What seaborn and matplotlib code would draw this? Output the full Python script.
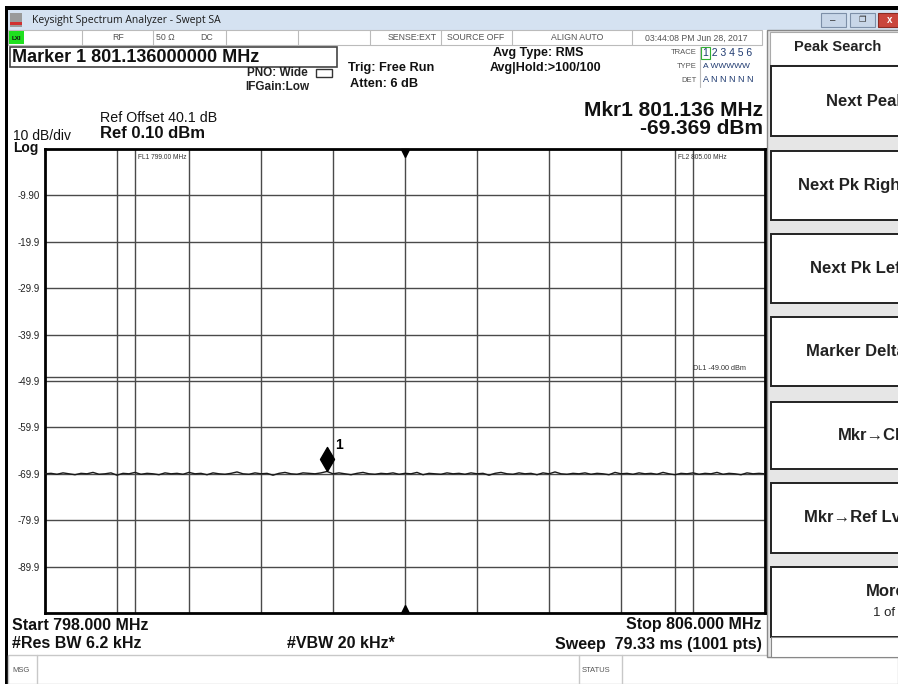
import matplotlib
matplotlib.use("Agg")
import matplotlib.pyplot as plt
from matplotlib.patches import Rectangle
from matplotlib.transforms import offset_copy
import numpy as np
import pandas as pd
import seaborn as sns

# sweep settings
start_mhz = 798.0
stop_mhz = 806.0
ref_level = 0.10
bottom_level = -99.9
fl_freqs = [799.0, 805.0]
fl_labels = ["FL1 799.00 MHz", "FL2 805.00 MHz"]
dl_level = -49.0
dl_label = "DL1 -49.00 dBm"
mkr_freq = 801.136
mkr_level = -69.369

grid_levels = [-9.9, -19.9, -29.9, -39.9, -49.9, -59.9, -69.9, -79.9, -89.9]
level_labels = ["-9.90", "-19.9", "-29.9", "-39.9", "-49.9", "-59.9", "-69.9", "-79.9", "-89.9"]
grid_freqs = [798.8, 799.6, 800.4, 801.2, 802.0, 802.8, 803.6, 804.4, 805.2]

# noise floor trace (dBm), read along the sweep
trace_dbm = [
    -69.9, -69.8, -70.0, -69.7, -69.9, -70.1, -69.8, -69.9, -69.6, -70.0,
    -69.9, -69.7, -70.2, -69.8, -69.9, -69.6, -70.0, -69.8, -69.9, -70.1,
    -69.7, -69.9, -69.8, -70.0, -69.6, -69.9, -69.8, -70.1, -69.7, -69.9,
    -70.0, -69.8, -69.5, -69.9, -70.0, -69.7, -69.9, -69.8, -70.2, -69.8,
    -69.6, -69.9, -70.0, -69.7, -69.8, -69.9, -69.7, -69.4, -69.9, -69.7,
    -69.9, -70.1, -69.8, -69.6, -69.9, -70.0, -69.8, -69.9, -69.7, -70.0,
    -69.8, -69.9, -69.6, -70.1, -69.8, -69.9, -70.0, -69.7, -69.9, -69.8,
    -70.0, -69.7, -69.9, -69.8, -70.2, -69.8, -69.6, -69.9, -70.0, -69.7,
    -69.9, -69.8, -70.1, -69.7, -69.9, -69.5, -69.9, -70.0, -69.8, -69.9,
    -69.7, -70.0, -69.8, -69.9, -70.1, -69.6, -69.9, -69.8, -70.0, -69.7,
    -69.9, -69.8, -70.0, -69.6, -69.9, -70.1, -69.8, -69.9, -69.7, -70.0,
    -69.8, -69.9, -69.6, -70.0, -69.8, -69.9, -70.1, -69.7, -69.9, -69.8, -69.9,
]

softkeys = ["Next Peak", "Next Pk Right", "Next Pk Left", "Marker Delta",
            "Mkr\u2192CF", "Mkr\u2192Ref Lvl", "More"]
softkey_rows = [(66, 136), (151, 220), (234, 303), (317, 386), (402, 469), (483, 553), (567, 637)]

sns.set_style("white")
plt.rcParams['font.family'] = ['Liberation Sans', 'DejaVu Sans']

W, H = 898, 684
fig = plt.figure(figsize=(W / 100, H / 100), dpi=100)

# pixel-space canvas for the instrument frame
ui = fig.add_axes([0, 0, 1, 1], zorder=0)
ui.set_xlim(0, W)
ui.set_ylim(H, 0)
ui.axis('off')


def box(x0, y0, x1, y1, fc='none', ec='none', lw=1.0):
    ui.add_patch(Rectangle((x0, y0), x1 - x0, y1 - y0, facecolor=fc, edgecolor=ec, lw=lw))


def txt(x, y, s, size=9, bold=False, ha='left', color='#111111', **kw):
    ui.text(x, y, s, fontsize=size, fontweight='bold' if bold else 'normal',
            ha=ha, va='center', color=color, **kw)


# window chrome
box(5, 6, W, 10, fc='black')
box(5, 6, 8, H, fc='black')
box(8, 10, W, 30, fc='#d5e2f1')
box(10, 13, 22, 27, fc='#9a9a9a')
box(10, 22, 22, 25, fc='#d03030')
ui.text(32, 20, "Keysight Spectrum Analyzer - Swept SA", fontsize=7.5, va='center',
        family=['Open Sans', 'DejaVu Sans'], color='#1a1a1a')
box(821, 13, 846, 27, fc='#c8d6e8', ec='#7d8fa8', lw=0.8)
box(850, 13, 875, 27, fc='#c8d6e8', ec='#7d8fa8', lw=0.8)
box(878, 13, 900, 27, fc='#c9463d', ec='#8a2b24', lw=0.8)
ui.text(833, 20, "\u2013", fontsize=7, ha='center', va='center', color='#333')
ui.text(862, 20, "\u2750", fontsize=6, ha='center', va='center', color='#333',
        family=['DejaVu Sans'])
ui.text(890, 20, "x", fontsize=7, ha='center', va='center', color='white', fontweight='bold')

# status row
box(8, 30, 762, 45, fc='white', ec='#bbbbbb', lw=0.8)
for xd in [82, 153, 226, 298, 370, 441, 512, 632]:
    ui.plot([xd, xd], [30, 45], color='#bbbbbb', lw=0.8)
box(9, 31, 24, 44, fc='#1fe01f')
txt(16, 38, "LXI", size=4.5, bold=True, ha='center')
for xs, s, ha in [(118, "RF", 'center'), (165, "50 \u03a9", 'center'), (207, "DC", 'center'),
                  (437, "SENSE:EXT", 'right'), (476, "SOURCE OFF", 'center'),
                  (577, "ALIGN AUTO", 'center'), (696, "03:44:08 PM Jun 28, 2017", 'center')]:
    txt(xs, 38, s, size=6.3, ha=ha, color='#555555')

# header texts
box(10, 47, 337, 67, fc='white', ec='#444444', lw=1.2)
txt(12, 57, "Marker 1 801.136000000 MHz", size=13, bold=True)
txt(247, 73, "PNO: Wide", size=8.5, bold=True, color='#222')
txt(245, 87, "IFGain:Low", size=8.5, bold=True, color='#222')
box(316, 69, 332, 77, fc='white', ec='#333333', lw=1.0)
txt(348, 68, "Trig: Free Run", size=9.2, bold=True)
txt(350, 84, "Atten: 6 dB", size=9.2, bold=True)
txt(538, 53, "Avg Type: RMS", size=9, bold=True, ha='center')
txt(545, 68, "Avg|Hold:>100/100", size=9, bold=True, ha='center')
ui.plot([700, 700], [47, 87], color='#bbbbbb', lw=0.8)
txt(697, 53, "TRACE", size=5.5, ha='right', color='#555555')
txt(697, 67, "TYPE", size=5.5, ha='right', color='#555555')
txt(697, 80, "DET", size=5.5, ha='right', color='#555555')
box(701, 47, 710, 59, ec='#30b030', lw=0.8)
txt(703, 53, "1 2 3 4 5 6", size=7.5, color='#1f3a70')
txt(703, 67, "A WWWWW", size=6, color='#1f3a70')
txt(703, 80, "A N N N N N", size=6.5, color='#1f3a70')
txt(763, 110, "Mkr1 801.136 MHz", size=15, bold=True, ha='right')
txt(763, 128, "-69.369 dBm", size=15, bold=True, ha='right')
txt(100, 118, "Ref Offset 40.1 dB", size=10.3)
txt(100, 134, "Ref 0.10 dBm", size=12, bold=True)
txt(13, 136, "10 dB/div", size=10)
txt(13, 148, "Log", size=10, bold=True)

# bottom annotation
txt(12, 625, "Start 798.000 MHz", size=11.5, bold=True)
txt(12, 644, "#Res BW 6.2 kHz", size=11.5, bold=True)
txt(287, 644, "#VBW 20 kHz*", size=11.5, bold=True)
txt(762, 625, "Stop 806.000 MHz", size=11.5, bold=True, ha='right')
txt(762, 644, "Sweep  79.33 ms (1001 pts)", size=11.5, bold=True, ha='right')
box(8, 655, W, H, fc='white', ec='#c8c8c8', lw=1.0)
for xd in [37, 579, 622]:
    ui.plot([xd, xd], [655, H], color='#c8c8c8', lw=1.0)
txt(12, 670, "MSG", size=5.5, color='#555555')
txt(582, 670, "STATUS", size=5.5, color='#555555')

# softkey panel (labels run past the right edge, as on the screen)
box(767, 30, 905, 657, fc='#e6e6e6', ec='#888888', lw=1.0)
box(770, 32, 905, 65, fc='white', ec='#aaaaaa', lw=0.8)
txt(838, 47, "Peak Search", size=10.5, bold=True, ha='center', color='#222')
for (y0, y1), label in zip(softkey_rows, softkeys):
    box(771, y0, 905, y1, fc='white', ec='#222222', lw=1.4)
    if label == "More":
        txt(906, y0 + 25, label, size=12, bold=True, ha='right', color='#222')
        txt(906, y0 + 46, "1 of 2", size=9.5, ha='right', color='#222')
    else:
        txt(906, (y0 + y1) / 2, label, size=12, bold=True, ha='right', color='#222')
box(771, 637, 905, 657, fc='white', ec='#888888', lw=0.8)

# the spectrum graticule
left, right, top, bottom = 45, 765, 149, 613
ax = fig.add_axes([left / W, 1 - bottom / H, (right - left) / W, (bottom - top) / H], zorder=2)
ax.set_facecolor('white')

df = pd.DataFrame({"freq": np.linspace(start_mhz, stop_mhz, len(trace_dbm)), "level": trace_dbm})
sns.lineplot(data=df, x="freq", y="level", ax=ax, color='#1a1a1a', lw=1.0, zorder=4)

ax.set_xlim(start_mhz, stop_mhz)
ax.set_ylim(bottom_level, ref_level)
ax.set_xticks(grid_freqs, labels=[])
ax.set_yticks(grid_levels, labels=level_labels)
ax.tick_params(axis='both', length=0)
ax.tick_params(axis='y', pad=4, labelsize=7, labelcolor='#222222')
ax.grid(True, color='#4a4a4a', lw=1.0)
ax.set_axisbelow(True)
ax.set_xlabel("")
ax.set_ylabel("")
for sp in ax.spines.values():
    sp.set_visible(True)
    sp.set_color('black')
    sp.set_linewidth(2.0)

# frequency and display lines
for f, lab in zip(fl_freqs, fl_labels):
    ax.axvline(f, color='#4a4a4a', lw=1.0, zorder=1)
    ax.annotate(lab, (f, ref_level), xytext=(2, -6), textcoords='offset points',
                fontsize=4.8, color='#333333', va='center')
ax.axhline(dl_level, color='#4a4a4a', lw=1.0, zorder=1)
ax.annotate(dl_label, (fl_freqs[1] + 0.2, dl_level), xytext=(0, 6), textcoords='offset points',
            fontsize=5.2, color='#333333', va='center')

# centre frequency triangles
center = (start_mhz + stop_mhz) / 2
ax.plot(center, ref_level, marker='v', color='black', ms=6,
        transform=offset_copy(ax.transData, fig=fig, y=-4, units='dots'), clip_on=False, zorder=6)
ax.plot(center, bottom_level, marker='^', color='black', ms=6,
        transform=offset_copy(ax.transData, fig=fig, y=4, units='dots'), clip_on=False, zorder=6)

# marker 1 diamond sitting on the trace
diamond = [(0, 0), (7, 12), (0, 24), (-7, 12), (0, 0)]
ax.plot(mkr_freq, mkr_level, marker=diamond, ms=34.6, color='black', zorder=7)
ax.annotate("1", (mkr_freq, mkr_level), xytext=(6, 16), textcoords='offset points',
            fontsize=10, fontweight='bold', color='black')

fig.savefig("out.png", dpi=100, facecolor='white')
